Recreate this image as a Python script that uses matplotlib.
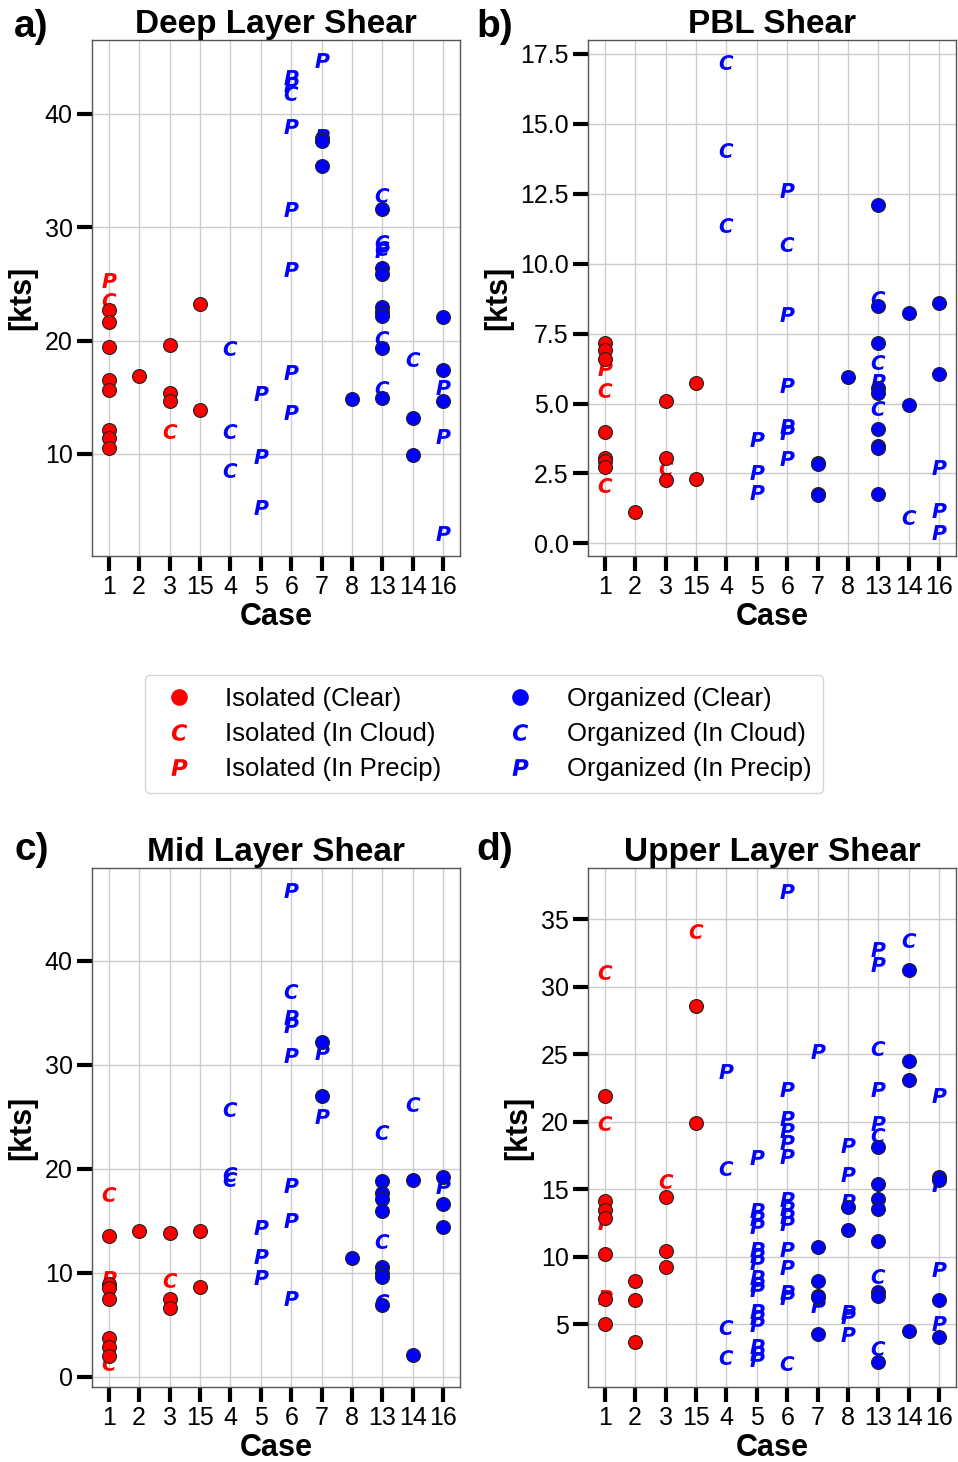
import matplotlib
matplotlib.use("Agg")
import matplotlib.pyplot as plt
from matplotlib.lines import Line2D
from matplotlib.ticker import FormatStrFormatter

plt.rcParams['font.family'] = ['Liberation Sans', 'DejaVu Sans']

# Category order on the x axis
cases = [1, 2, 3, 15, 4, 5, 6, 7, 8, 13, 14, 16]

# ---------------- a) Deep Layer Shear ----------------
deep_iso_clear = {1: [22.7, 21.6, 19.4, 16.5, 15.6, 12.1, 11.4, 10.5], 2: [16.9],
                  3: [19.6, 15.4, 14.7], 15: [23.2, 13.9]}
deep_iso_cloud = {1: [23.6], 3: [12.0]}
deep_iso_precip = {1: [25.3]}
deep_org_clear = {7: [37.9, 37.6, 35.4], 8: [14.8],
                  13: [31.6, 26.4, 25.9, 23.0, 22.5, 22.2, 19.3, 14.9],
                  14: [13.2, 9.9], 16: [22.1, 17.4, 14.7]}
deep_org_cloud = {4: [19.3, 12.0, 8.6], 6: [41.8], 13: [32.8, 28.7, 28.2, 20.2, 15.8], 14: [18.4]}
deep_org_precip = {5: [15.4, 9.8, 5.3], 6: [43.2, 42.6, 38.9, 31.6, 26.3, 17.2, 13.7],
                   7: [44.7, 38.0], 13: [28.0], 16: [15.9, 11.6, 3.0]}

# ---------------- b) PBL Shear ----------------
pbl_iso_clear = {1: [7.17, 6.9, 6.6, 4.0, 3.06, 2.95, 2.73], 2: [1.12],
                 3: [5.1, 3.06, 2.26], 15: [5.74, 2.32]}
pbl_iso_cloud = {1: [5.5, 2.1], 3: [2.7]}
pbl_iso_precip = {1: [6.27]}
pbl_org_clear = {7: [2.88, 2.85, 1.75, 1.72], 8: [5.95],
                 13: [12.1, 8.48, 7.17, 5.56, 5.38, 4.1, 3.5, 3.4, 1.77],
                 14: [8.24, 4.94], 16: [8.6, 6.06]}
pbl_org_cloud = {4: [17.2, 14.05, 11.4], 6: [10.7], 13: [8.77, 6.5, 4.85], 14: [0.95]}
pbl_org_precip = {5: [3.75, 2.55, 1.85], 6: [12.64, 8.2, 5.68, 4.2, 4.0, 3.06],
                  13: [5.8], 16: [2.73, 1.2, 0.4]}

# ---------------- c) Mid Layer Shear ----------------
mid_iso_clear = {1: [13.5, 8.9, 8.5, 7.5, 3.7, 2.8, 2.0], 2: [14.0],
                 3: [13.8, 7.5, 6.6], 15: [14.0, 8.6]}
mid_iso_cloud = {1: [17.6, 1.3], 3: [9.3]}
mid_iso_precip = {1: [9.5]}
mid_org_clear = {7: [32.2, 27.0], 8: [11.4],
                 13: [18.8, 17.7, 17.1, 15.9, 10.5, 10.0, 9.6, 6.9],
                 14: [18.9, 2.1], 16: [19.2, 16.6, 14.4]}
mid_org_cloud = {4: [25.7, 19.5, 19.0], 6: [37.1], 13: [23.5, 13.0, 7.3], 14: [26.2]}
mid_org_precip = {5: [14.4, 11.6, 9.6], 6: [46.75, 34.6, 33.8, 30.9, 18.4, 15.1, 7.6],
                  7: [31.2, 25.1], 16: [18.3]}

# ---------------- d) Upper Layer Shear ----------------
upper_iso_clear = {1: [21.9, 14.1, 13.45, 12.9, 10.2, 6.9, 5.05], 2: [8.2, 6.8, 3.7],
                   3: [14.45, 10.4, 9.25], 15: [28.6, 19.9]}
upper_iso_cloud = {1: [31.1, 19.9], 3: [15.6], 15: [34.1]}
upper_iso_precip = {1: [12.6, 7.0]}
upper_org_clear = {7: [10.7, 8.2, 7.1, 7.0, 4.25], 8: [13.7, 12.0],
                   13: [18.1, 15.4, 14.3, 13.55, 11.2, 7.4, 7.1, 2.2],
                   14: [31.25, 24.5, 23.1, 4.5], 16: [15.9, 15.7, 6.8, 4.05]}
upper_org_cloud = {4: [16.6, 4.8, 2.55], 6: [2.1], 13: [25.45, 19.0, 8.6, 3.25], 14: [33.45]}
upper_org_precip = {4: [23.75],
                    5: [17.4, 13.5, 12.9, 12.25, 10.6, 10.1, 9.6, 8.5, 8.0, 7.6,
                        6.0, 5.5, 5.0, 3.4, 2.9, 2.4],
                    6: [37.1, 22.4, 20.25, 19.4, 18.5, 17.5, 14.25, 13.6, 13.0, 12.5,
                        10.6, 9.25, 7.4, 7.0],
                    7: [25.25, 6.4], 8: [18.25, 16.1, 14.1, 5.9, 5.6, 4.25],
                    13: [32.8, 31.7, 22.45, 19.9], 16: [21.95, 15.4, 9.1, 5.1]}

panel_titles = ["Deep Layer Shear", "PBL Shear", "Mid Layer Shear", "Upper Layer Shear"]
panel_letters = ["a)", "b)", "c)", "d)"]
panel_yticks = [[10, 20, 30, 40], [0, 2.5, 5, 7.5, 10, 12.5, 15, 17.5],
                [0, 10, 20, 30, 40], [5, 10, 15, 20, 25, 30, 35]]
panel_ylims = [(1.0, 46.5), (-0.45, 18.0), (-1.0, 48.9), (0.35, 38.8)]

legend_labels = ["Isolated (Clear)", "Isolated (In Cloud)", "Isolated (In Precip)",
                 "Organized (Clear)", "Organized (In Cloud)", "Organized (In Precip)"]

panel_data = [
    [deep_iso_clear, deep_iso_cloud, deep_iso_precip, deep_org_clear, deep_org_cloud, deep_org_precip],
    [pbl_iso_clear, pbl_iso_cloud, pbl_iso_precip, pbl_org_clear, pbl_org_cloud, pbl_org_precip],
    [mid_iso_clear, mid_iso_cloud, mid_iso_precip, mid_org_clear, mid_org_cloud, mid_org_precip],
    [upper_iso_clear, upper_iso_cloud, upper_iso_precip, upper_org_clear, upper_org_cloud, upper_org_precip],
]

RED = '#ff0000'
BLUE = '#0000ff'
MC = r'$\mathbfit{C}$'
MP = r'$\mathbfit{P}$'
styles = [
    dict(marker='o', color=RED, circ=True),
    dict(marker=MC, color=RED, circ=False),
    dict(marker=MP, color=RED, circ=False),
    dict(marker='o', color=BLUE, circ=True),
    dict(marker=MC, color=BLUE, circ=False),
    dict(marker=MP, color=BLUE, circ=False),
]

fig = plt.figure(figsize=(9.58, 14.62), dpi=100)
W, H = 958.0, 1462.0
boxes = [(92, 40, 460, 556), (588, 40, 956, 556), (92, 868, 460, 1387), (588, 868, 956, 1387)]
letter_pos = [(14, 27), (476, 27), (14, 850), (476, 850)]

for i, (l, t, r, b) in enumerate(boxes):
    ax = fig.add_axes([l / W, 1 - b / H, (r - l) / W, (b - t) / H])
    # draw series; letters first, then circles on top
    order = [1, 2, 4, 5, 0, 3]
    for k in order:
        d = panel_data[i][k]
        st = styles[k]
        xs, ys = [], []
        for c, vals in d.items():
            for v in vals:
                xs.append(cases.index(c))
                ys.append(v)
        if st['circ']:
            ax.scatter(xs, ys, s=100, marker='o', facecolor=st['color'], edgecolor='#222222',
                       linewidth=0.8, zorder=4)
        else:
            ax.scatter(xs, ys, s=115, marker=st['marker'], color=st['color'],
                       linewidth=0, zorder=3)
    ax.set_xticks(range(len(cases)))
    ax.set_xticklabels([str(c) for c in cases])
    ax.set_xlim(-0.55, len(cases) - 0.45)
    ax.set_yticks(panel_yticks[i])
    ax.set_ylim(*panel_ylims[i])
    if i == 1:
        ax.yaxis.set_major_formatter(FormatStrFormatter('%.1f'))
    ax.grid(True, color='#cccccc', linewidth=1.0, zorder=0)
    ax.set_axisbelow(True)
    for sp in ax.spines.values():
        sp.set_color('#555555')
        sp.set_linewidth(1.0)
    ax.tick_params(axis='both', which='major', length=11, width=3, color='black',
                   labelsize=18, pad=3)
    ax.set_title(panel_titles[i], fontsize=24, fontweight='bold', pad=4)
    ax.set_xlabel('Case', fontsize=22, fontweight='bold', labelpad=2)
    ax.set_ylabel('[kts]', fontsize=22, fontweight='bold', labelpad=5)
    fig.text(letter_pos[i][0] / W, 1 - letter_pos[i][1] / H, panel_letters[i],
             fontsize=28, fontweight='bold', ha='left', va='center')

handles = []
for st in styles:
    handles.append(Line2D([], [], linestyle='', marker=st['marker'], color=st['color'],
                          markersize=12, markeredgewidth=0))

leg = fig.legend(handles, legend_labels, loc='center', bbox_to_anchor=(484 / W, 1 - 734 / H),
                 ncol=2, fontsize=18.5, frameon=True, fancybox=True, labelspacing=0.44,
                 handletextpad=0.97, columnspacing=2.2, borderpad=0.45, handlelength=1.7)
leg.get_frame().set_edgecolor('#cccccc')
leg.get_frame().set_linewidth(1.0)

fig.savefig('out.png', dpi=100)
